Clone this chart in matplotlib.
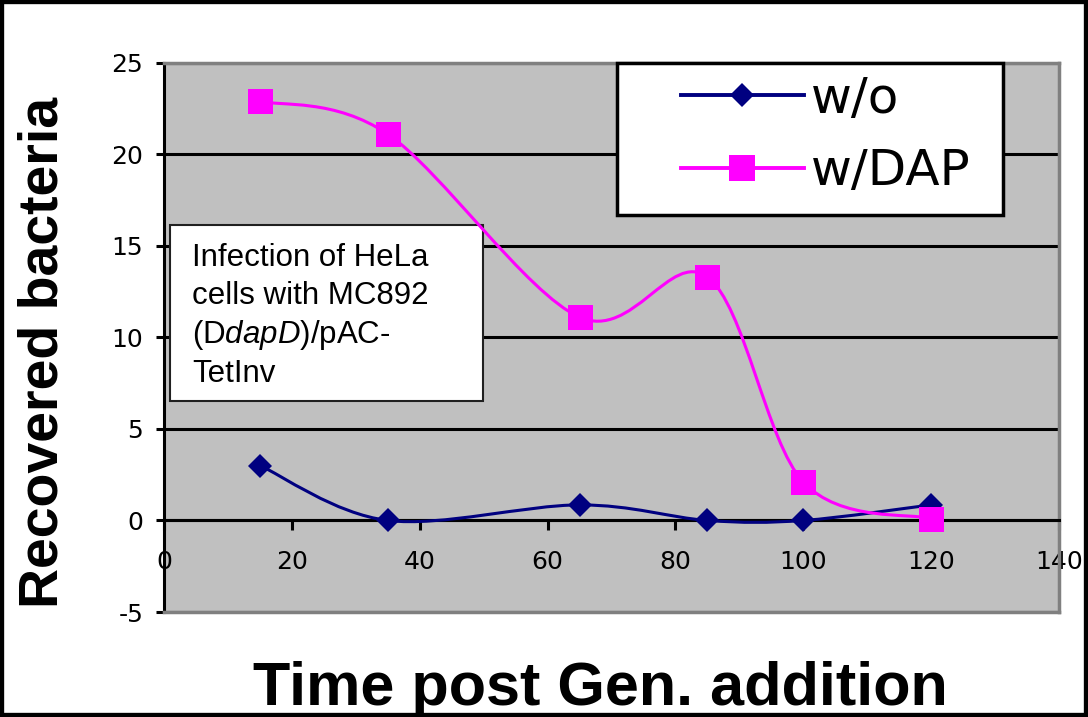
import numpy as np
import matplotlib
matplotlib.use("Agg")
import matplotlib.pyplot as plt
from matplotlib.path import Path
from matplotlib.patches import PathPatch, Rectangle
from matplotlib.lines import Line2D

# values
time_min = [15, 35, 65, 85, 100, 120]
without_dap = [3.0, 0.0, 0.85, 0.0, 0.0, 0.85]
with_dap = [22.9, 21.1, 11.1, 13.3, 2.1, 0.1]
series_labels = ["w/o", "w/DAP"]
x_ticks = [0, 20, 40, 60, 80, 100, 120, 140]
y_ticks = [-5, 0, 5, 10, 15, 20, 25]
note_lines = ["Infection of HeLa", "cells with MC892",
              r"(D$\mathit{dapD}$)/pAC-", "TetInv"]

NAVY = "#000080"
MAGENTA = "#FF00FF"
PLOT_GRAY = "#C0C0C0"
EDGE_GRAY = "#808080"

plt.rcParams["mathtext.fontset"] = "custom"
plt.rcParams["mathtext.rm"] = "Liberation Sans"
plt.rcParams["mathtext.it"] = "Liberation Sans:italic"

W, H = 1088, 717


def px_box(x0, y0, x1, y1):
    """Pixel box (top-left origin) -> figure fraction (x, y, w, h)."""
    return x0 / W, 1 - y1 / H, (x1 - x0) / W, (y1 - y0) / H


def smooth_path(xs, ys):
    # Excel-style smoothed line: Catmull-Rom segments as cubic Beziers
    pts = np.column_stack([xs, ys]).astype(float)
    padded = np.vstack([pts[0], pts, pts[-1]])
    verts = [pts[0]]
    for i in range(len(pts) - 1):
        p0, p1, p2, p3 = padded[i], padded[i + 1], padded[i + 2], padded[i + 3]
        verts += [p1 + (p2 - p0) / 6, p2 - (p3 - p1) / 6, p2]
    codes = [Path.MOVETO] + [Path.CURVE4] * (len(verts) - 1)
    return Path(verts, codes)


fig = plt.figure(figsize=(W / 100, H / 100), dpi=100)
fig.patch.set_facecolor("white")
ax = fig.add_axes(px_box(164, 62.7, 1059, 612))
ax.set_facecolor(PLOT_GRAY)

ax.set_xlim(0, 140)
ax.set_ylim(-5, 25)
ax.set_xticks(x_ticks)
ax.set_yticks(y_ticks)
ax.set_yticklabels([str(v) for v in y_ticks])

ax.yaxis.grid(True, color="black", lw=2.2, zorder=0)
ax.set_axisbelow(True)

for side in ("top", "right"):
    ax.spines[side].set_color(EDGE_GRAY)
    ax.spines[side].set_linewidth(2.5)
ax.spines["left"].set_linewidth(2.2)
ax.spines["bottom"].set_position(("data", 0))
ax.spines["bottom"].set_linewidth(2.2)
ax.axhline(-5, color=EDGE_GRAY, lw=2.5, zorder=3, clip_on=False)

ax.tick_params(axis="y", direction="out", length=6, width=2.2, pad=9,
               labelsize=18)
ax.tick_params(axis="x", direction="out", length=7.5, width=2.2, pad=14,
               labelsize=18)

# smoothed series + markers
ax.add_patch(PathPatch(smooth_path(time_min, without_dap), fill=False,
                       edgecolor=NAVY, lw=2.2, zorder=6))
ax.add_patch(PathPatch(smooth_path(time_min, with_dap), fill=False,
                       edgecolor=MAGENTA, lw=2.2, zorder=6))
ax.plot(time_min, without_dap, ls="none", marker="D", ms=12.5, mew=0,
        color=NAVY, zorder=7, clip_on=False)
ax.plot(time_min, with_dap, ls="none", marker="s", ms=18, mew=0,
        color=MAGENTA, zorder=7, clip_on=False)

# note box
ax.add_patch(Rectangle(px_box(170, 225, 483, 401)[:2],
                       *px_box(170, 225, 483, 401)[2:],
                       transform=fig.transFigure, facecolor="white",
                       edgecolor="#202020", lw=1.5, zorder=4, clip_on=False))
for i, line in enumerate(note_lines):
    ax.text(192 / W, 1 - (266 + i * 38.5) / H, line, transform=fig.transFigure,
            family="Liberation Sans", fontsize=22.5, va="baseline", ha="left",
            zorder=5)

# legend with a separate thick frame
ax.add_patch(Rectangle(px_box(617, 63, 1003, 215)[:2],
                       *px_box(617, 63, 1003, 215)[2:],
                       transform=fig.transFigure, facecolor="white",
                       edgecolor="black", lw=2.5, zorder=4, clip_on=False))
handles = [Line2D([], [], color=NAVY, lw=2.8, marker="D", ms=12, mew=0),
           Line2D([], [], color=MAGENTA, lw=2.8, marker="s", ms=19, mew=0)]
leg = ax.legend(handles, series_labels, loc="center left",
                bbox_to_anchor=(681 / W, 1 - 135 / H),
                bbox_transform=fig.transFigure, frameon=False,
                borderpad=0, borderaxespad=0, handlelength=2.45,
                handletextpad=0.15, labelspacing=0.5,
                prop={"family": "DejaVu Sans", "size": 36})
leg.set_zorder(5)

# axis titles
fig.text(44 / W, 1 - 352 / H, "Recovered bacteria", rotation=90,
         ha="center", va="center", family="Liberation Sans",
         fontweight="bold", fontsize=40)
fig.text(600 / W, 1 - 705 / H, "Time post Gen. addition", ha="center",
         va="baseline", family="Liberation Sans", fontweight="bold",
         fontsize=44)

# black frame around the whole picture
fig.add_artist(Rectangle((0, 0), 1, 1, transform=fig.transFigure,
                         fill=False, edgecolor="black", lw=6, zorder=10))

fig.savefig("out.png", dpi=100)
